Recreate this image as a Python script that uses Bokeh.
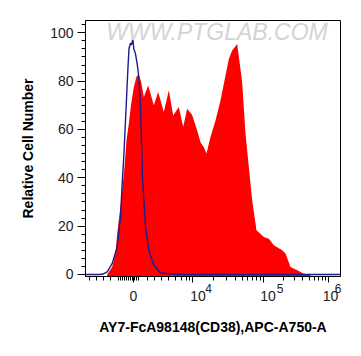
from bokeh.plotting import figure
from bokeh.models import FixedTicker, SingleIntervalTicker, Label, Range1d, LinearAxis
from bokeh.embed import file_html
from bokeh.resources import INLINE

# ---- data (x in display channel units of the biexponential axis, 0..1020) ----
red_x = [86.7, 106.7, 120, 126.7, 134.7, 142.7, 150.7, 156, 164, 173.3, 182.7, 193.3, 204, 213.3,
         222.7, 233.3, 250.7, 273.3, 290.7, 313.3, 333.3, 350.7, 373.3, 390.7, 406.7, 426.7,
         446.7, 460, 473.3, 484, 500, 520, 540, 556, 573.3, 586.7, 606.7, 626.7, 640, 653.3,
         666.7, 684, 713.3, 733.3, 753.3, 786.7, 800, 820, 846.7, 873.3, 900]
red_y = [0, 3.1, 8.7, 16.9, 23.8, 30.7, 39, 44.5, 55.5, 62.4, 70.7, 77.5, 81.9, 82.8,
         79.6, 73.4, 78.2, 70, 75.5, 67.2, 76.2, 65.8, 69.3, 61, 68.6, 66,
         59.6, 54.7, 52.7, 50.1, 56.9, 63.7, 72, 80.3, 89.2, 92.7, 95.4, 79.6, 58.3, 44.5,
         30.7, 18.3, 15.5, 14.8, 12.1, 10, 8.7, 3.1, 1.8, 0.3, 0]

blue_x = [0, 60, 72, 86.7, 106.7, 126.7, 140, 146.7, 153.3, 160, 169.3, 174, 180, 184, 189.3,
          193.3, 200, 206.7, 213.3, 220, 224.8, 228, 240, 253.3, 273.3, 300, 352, 400, 1020]
blue_y = [0, 0, 0.3, 1.1, 4.5, 11.4, 23.8, 37.6, 49, 63.7, 84.4, 93.5, 95.7, 95, 97.3,
          93.4, 91.3, 87.2, 81.7, 69.3, 52.7, 40, 19.7, 10, 3.8, 0.6, 0.2, 0, 0]

# axis ticks (channel positions) and labels
tick_ch = [192, 428, 713, 973]          # 0, 10^4, 10^5, 10^6
minor_ch = [16, 44, 72, 100, 132, 140, 148, 156, 164, 172, 180, 188, 196, 204, 212,
            248, 276, 304, 332, 360, 384, 404, 416,
            513.5, 563.5, 599, 626.5, 649, 668, 684.5, 699,
            791, 837, 869.5, 894.7, 915.3, 932.7, 947.8, 961]
base_pos = [192, 450, 730, 980]
base_text = ["0", "10", "10", "10"]
sup_pos = [492, 778, 1010]
sup_text = ["4", "5", "6"]

W, H = 355, 350
Y0, Y1 = -0.83, 105.1

p = figure(width=W, height=H, output_backend="svg", toolbar_location=None,
           x_range=Range1d(0, 1020), y_range=Range1d(Y0, Y1),
           min_border_left=85, min_border_right=15, min_border_top=20, min_border_bottom=74)
p.grid.visible = False
p.outline_line_color = "black"
p.outline_line_width = 1
p.background_fill_color = "white"
p.border_fill_color = "white"

p.varea(x=red_x, y1=Y0, y2=red_y, fill_color="#ff0000")
p.line(blue_x, blue_y, line_color="#1c1c8c", line_width=1.4)

FONT = "Liberation Sans"
TICK_COLOR = "#222222"

xa = p.xaxis[0]
xa.ticker = FixedTicker(ticks=tick_ch, minor_ticks=minor_ch)
xa.major_label_overrides = {t: "" for t in tick_ch}
xa.major_label_standoff = 0
xa.major_tick_out = 6
xa.major_tick_in = 0
xa.minor_tick_out = 4
xa.minor_tick_in = 0
xa.axis_line_color = "black"

def label_axis(pos, texts, size, standoff):
    ax = LinearAxis(ticker=FixedTicker(ticks=pos, minor_ticks=[]),
                    major_label_overrides={t: s for t, s in zip(pos, texts)},
                    axis_line_color=None, major_tick_line_color=None,
                    minor_tick_line_color=None, major_tick_out=0, major_tick_in=0,
                    minor_tick_out=0, minor_tick_in=0,
                    major_label_standoff=standoff, major_label_text_font=FONT,
                    major_label_text_font_size=size, major_label_text_color=TICK_COLOR)
    p.add_layout(ax, "below")
    return ax

sup_axis = label_axis(sup_pos, sup_text, "12px", 1)
base_axis = label_axis(base_pos, base_text, "14px", -5)
base_axis.axis_label = "AY7-FcA98148(CD38),APC-A750-A"
base_axis.axis_label_text_font = FONT
base_axis.axis_label_text_font_style = "bold"
base_axis.axis_label_text_font_size = "14px"
base_axis.axis_label_text_color = "black"
base_axis.axis_label_standoff = 15

ya = p.yaxis[0]
ya.ticker = SingleIntervalTicker(interval=20, num_minor_ticks=6)
ya.major_tick_out = 8
ya.major_tick_in = 0
ya.minor_tick_out = 4
ya.minor_tick_in = 0
ya.axis_line_color = "black"
ya.major_label_standoff = 4
ya.major_label_text_font = FONT
ya.major_label_text_font_size = "14px"
ya.major_label_text_color = TICK_COLOR
ya.axis_label = "Relative Cell Number"
ya.axis_label_text_font = FONT
ya.axis_label_text_font_style = "bold"
ya.axis_label_text_font_size = "14px"
ya.axis_label_text_color = "black"
ya.axis_label_standoff = 11

# watermark
p.add_layout(Label(x=526, y=105.6, text="WWW.PTGLAB.COM", text_align="center",
                   text_baseline="top", text_font=FONT, text_font_style="italic",
                   text_font_size="23px", text_color="#d4d4d4"))

open("out.html", "w").write(file_html(p, INLINE))
